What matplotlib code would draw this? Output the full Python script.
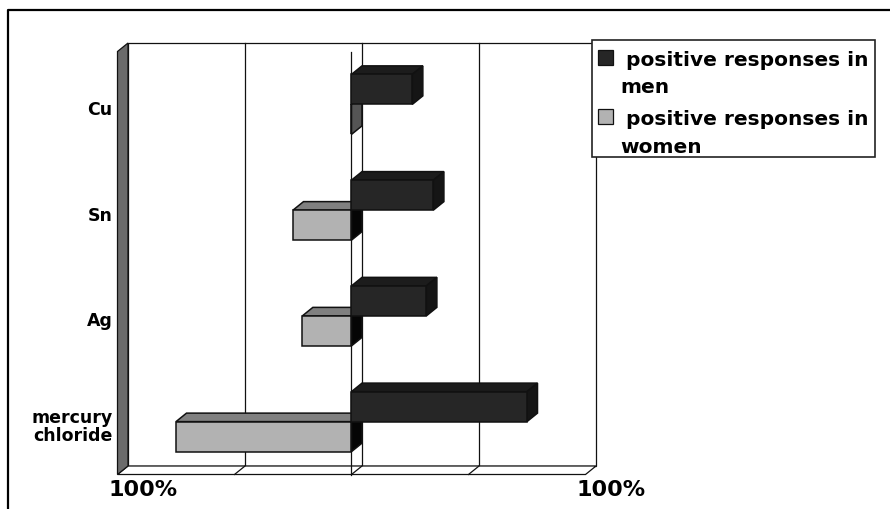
import matplotlib
matplotlib.use("Agg")
import matplotlib.pyplot as plt
from matplotlib.patches import Polygon, Rectangle
from matplotlib.lines import Line2D
import matplotlib.transforms as mtransforms

# ---- data (top to bottom as displayed) ----
categories = ["Cu", "Sn", "Ag", "mercury\nchloride"]
men = [26, 35, 32, 75]          # % positive responses in men (plotted to the right)
women = [0, 25, 21, 75]         # % positive responses in women (plotted to the left)
series_names = ["positive responses in men", "positive responses in women"]
tick_values = [-100, 100]
tick_labels = ["100%", "100%"]
gridlines = [-50, 0, 50]

W, H = 890, 510
fig = plt.figure(figsize=(W / 100, H / 100), dpi=100)
fig.patch.set_facecolor("white")
plt.rcParams["font.family"] = ["DejaVu Sans"]

# front plotting rectangle in pixels
FL, FR, FT, FB = 117.5, 585.5, 52.5, 475.5
ax = fig.add_axes([FL / W, 1 - FB / H, (FR - FL) / W, (FB - FT) / H])
ax.set_xlim(-100, 100)
n = len(categories)
ax.set_ylim(0, n)
ax.axis("off")

# depth offset (pixels -> data units)
DX = 10.5 / (FR - FL) * 200
DY = 8.5 / (FB - FT) * n

LW = 0.9
BLW = 1.1
EDGE = "#111111"

# back wall
ax.add_patch(Rectangle((-100 + DX, DY), 200, n, facecolor="white", edgecolor=EDGE,
                       lw=LW, clip_on=False, zorder=1))
for g in gridlines:
    ax.add_line(Line2D([g + DX, g + DX], [DY, n + DY], color=EDGE, lw=LW, clip_on=False, zorder=2))
# floor
ax.add_patch(Polygon([(-100, 0), (100, 0), (100 + DX, DY), (-100 + DX, DY)], closed=True,
                     facecolor="white", edgecolor=EDGE, lw=LW, clip_on=False, zorder=2))
for g in gridlines:
    ax.add_line(Line2D([g, g + DX], [0, DY], color=EDGE, lw=LW, clip_on=False, zorder=3))
# left wall
ax.add_patch(Polygon([(-100, 0), (-100 + DX, DY), (-100 + DX, n + DY), (-100, n)], closed=True,
                     facecolor="#6b6b6b", edgecolor=EDGE, lw=LW, clip_on=False, zorder=3))
# zero plane front line
ax.add_line(Line2D([0, 0], [0, n], color=EDGE, lw=LW, clip_on=False, zorder=3))

BAR_H = 0.2838


def bar3d(x0, x1, y0, y1, front, top, side, z):
    ax.add_patch(Polygon([(x0, y1), (x1, y1), (x1 + DX, y1 + DY), (x0 + DX, y1 + DY)], closed=True,
                         facecolor=top, edgecolor=EDGE, lw=BLW, clip_on=False, zorder=z))
    ax.add_patch(Polygon([(x1, y0), (x1 + DX, y0 + DY), (x1 + DX, y1 + DY), (x1, y1)], closed=True,
                         facecolor=side, edgecolor=EDGE, lw=BLW, clip_on=False, zorder=z))
    ax.add_patch(Rectangle((x0, y0), x1 - x0, y1 - y0, facecolor=front, edgecolor=EDGE,
                           lw=BLW, clip_on=False, zorder=z + 0.1))


for i, cat in enumerate(categories):
    yc = n - 1 - i + 0.5
    z = 10 + i * 2
    # women (lower bar, to the left)
    wv = -women[i]
    bar3d(wv, 0, yc - BAR_H, yc, "#b2b2b2", "#808080",
          "#050505" if women[i] != 0 else "#555555", z)
    # men (upper bar, to the right)
    bar3d(0, men[i], yc, yc + BAR_H, "#262626", "#1c1c1c", "#151515", z + 1)
    # category label
    tr = mtransforms.offset_copy(ax.transData, fig=fig, x=-5, y=-4.5, units="dots")
    ax.text(-100, yc, cat, transform=tr, ha="right", va="center", fontsize=12.5,
            fontweight="bold", linespacing=1.05, color="black")

# tick labels
for v, lab in zip(tick_values, tick_labels):
    tr = mtransforms.offset_copy(ax.transData, fig=fig, x=26, y=-15, units="dots")
    ax.text(v, 0, lab, transform=tr, ha="center", va="center", fontsize=16,
            fontweight="bold", color="black")


# legend (manual, Excel style)
def fx(px):
    return px / W


def fy(py):
    return 1 - py / H


fig.add_artist(Rectangle((fx(591.7), fy(157.7)), fx(875) - fx(591.7), fy(40.7) - fy(157.7),
                         transform=fig.transFigure, facecolor="white", edgecolor="#222222",
                         lw=1.2, zorder=50))
leg_colors = ["#262626", "#b2b2b2"]
for k, (name, col) in enumerate(zip(series_names, leg_colors)):
    off = k * 59.3
    fig.add_artist(Rectangle((fx(598), fy(65.7 + off)), 15 / W, 15 / H, transform=fig.transFigure,
                             facecolor=col, edgecolor="#111111", lw=0.9, zorder=51))
    words = name.split(" ")
    line1 = " ".join(words[:-1])
    line2 = words[-1]
    fig.text(fx(626.5), fy(66 + off), line1, ha="left", va="baseline", fontsize=14.5,
             fontweight="bold", zorder=52)
    fig.text(fx(620), fy(93.3 + off), line2, ha="left", va="baseline", fontsize=14.5,
             fontweight="bold", zorder=52)

# outer frame (top and left)
fig.add_artist(Line2D([fx(7.5), fx(7.5), fx(892)], [fy(512), fy(11), fy(11)],
                      transform=fig.transFigure, color="black", lw=1.6, zorder=60))

fig.savefig("out.png", dpi=100, facecolor="white")
